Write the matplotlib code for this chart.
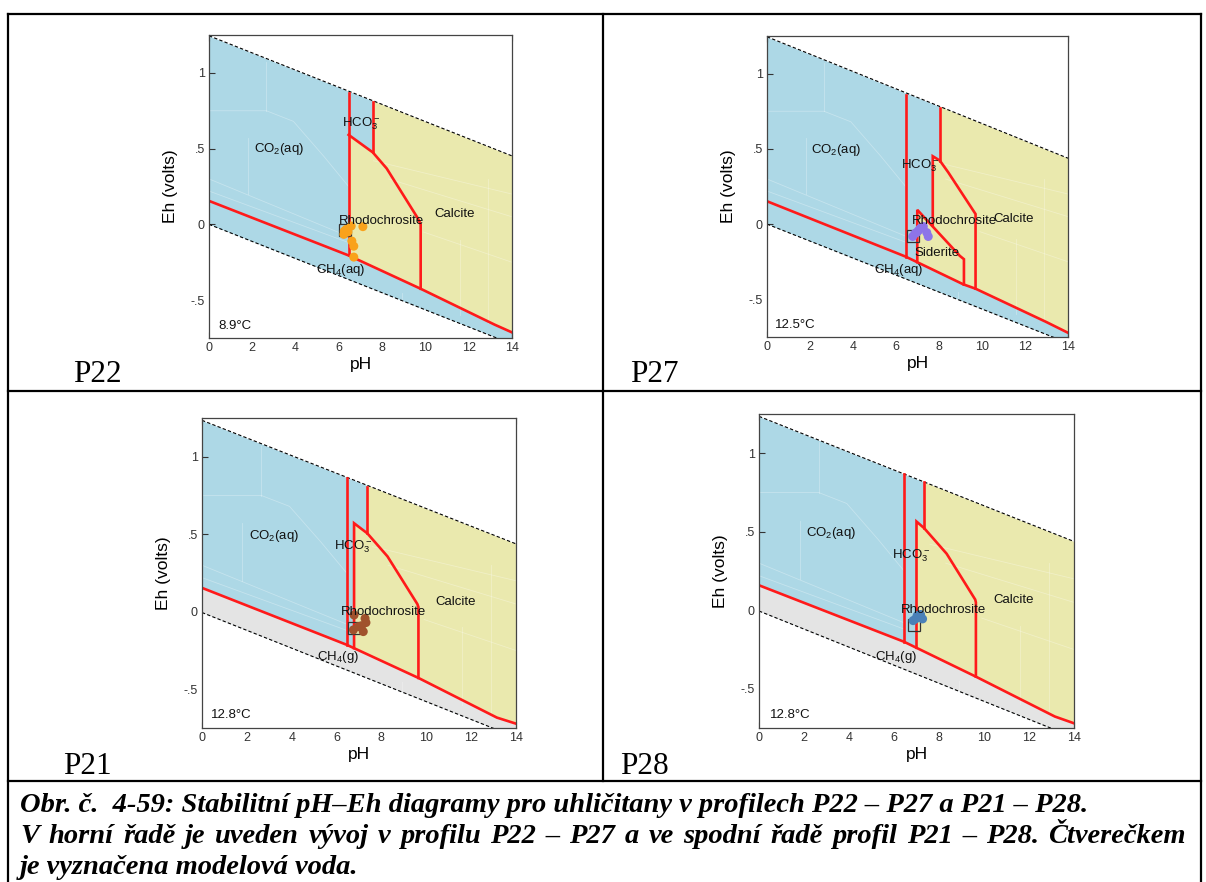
import matplotlib
matplotlib.use('Agg')
import matplotlib.pyplot as plt
from matplotlib.lines import Line2D
import numpy as np

plt.rcParams['font.family'] = ['Liberation Sans', 'DejaVu Sans']
plt.rcParams['mathtext.fontset'] = 'custom'
plt.rcParams['mathtext.rm'] = 'Liberation Sans'
plt.rcParams['mathtext.it'] = 'Liberation Sans:italic'

W, H = 1206, 882

# ── shared axis values ────────────────────────────────────────────────────────
PH_TICKS = [0, 2, 4, 6, 8, 10, 12, 14]
EH_TICKS = [-0.5, 0, 0.5, 1]
EH_TICK_LABELS = ['-.5', '0', '.5', '1']

# faint traces of the underlying diagram (white, barely visible)
faint_lines = [
    [(1.8, 0.57), (1.8, 0.2)],
    [(2.65, 1.07), (2.65, 0.75)],
    [(0, 0.75), (2.65, 0.75), (3.9, 0.68), (5.3, 0.45), (6.45, 0.25)],
    [(0, 0.30), (6.45, -0.08)],
    [(0, 0.22), (6.45, -0.12)],
    [(7.6, 0.42), (14, 0.20)],
    [(8.3, 0.30), (14, 0.05)],
    [(9.9, -0.05), (14, -0.25)],
    [(8.9, -0.45), (8.9, -0.75)],
    [(11.6, -0.1), (11.6, -0.6)],
    [(12.9, 0.3), (12.9, -0.65)],
]

# ── P22 (8.9 °C) ──────────────────────────────────────────────────────────────
p22_water_top = [(0, 1.245), (14, 0.452)]
p22_water_bottom = [(0, 0.0), (14, -0.79)]
p22_red_lower = [(0, 0.155), (6.45, -0.205), (9.78, -0.425), (13.2, -0.662), (14, -0.713)]
p22_red_co2 = [(6.45, 0.868), (6.45, -0.205)]
p22_red_hco3 = [(7.57, 0.806), (7.57, 0.475)]
p22_red_calcite = [(6.45, 0.591), (7.57, 0.475), (8.21, 0.369), (9.65, 0.04), (9.78, 0.0), (9.78, -0.425)]
p22_red_siderite = []
p22_yellow_chain = [(6.45, 0.591), (7.57, 0.475)]
p22_ph = [6.23, 6.34, 6.42, 6.30, 6.57, 7.11, 6.60, 6.69, 6.69, 6.25]
p22_eh = [-0.066, -0.033, -0.050, -0.040, -0.011, -0.015, -0.110, -0.144, -0.216, -0.045]
p22_model = (6.28, -0.04)
p22_labels = [('CO$_2$(aq)', 3.26, 0.497), ('HCO$_3^-$', 7.03, 0.665), ('Calcite', 11.34, 0.07),
              ('Rhodochrosite', 7.96, 0.022), ('CH$_4$(aq)', 6.11, -0.298), ('8.9°C', 1.19, -0.67)]

# ── P27 (12.5 °C) ─────────────────────────────────────────────────────────────
p27_water_top = [(0, 1.245), (14, 0.438)]
p27_water_bottom = [(0, 0.0), (14, -0.79)]
p27_red_lower = [(0, 0.152), (6.45, -0.216), (9.13, -0.40), (9.70, -0.429), (13.0, -0.651), (14, -0.722)]
p27_red_co2 = [(6.45, 0.86), (6.45, -0.216)]
p27_red_hco3 = [(8.04, 0.771), (8.04, 0.422)]
p27_red_calcite = [(7.71, -0.01), (7.71, 0.451), (8.04, 0.422), (8.43, 0.344), (9.70, 0.067), (9.70, -0.429)]
p27_red_siderite = [(6.99, -0.253), (6.99, 0.095), (8.97, -0.211), (9.16, -0.233), (9.16, -0.402)]
p27_yellow_chain = [(6.99, 0.095), (7.71, -0.01), (7.71, 0.451), (8.04, 0.422)]
p27_ph = [6.78, 6.88, 6.96, 7.04, 7.12, 7.20, 7.27, 7.43, 7.50]
p27_eh = [-0.082, -0.063, -0.056, -0.044, -0.029, -0.022, -0.016, -0.056, -0.082]
p27_model = (6.78, -0.08)
p27_labels = [('CO$_2$(aq)', 3.22, 0.493), ('HCO$_3^-$', 7.12, 0.385), ('Rhodochrosite', 8.74, 0.018),
              ('Calcite', 11.48, 0.033), ('Siderite', 7.92, -0.193), ('CH$_4$(aq)', 6.14, -0.305),
              ('12.5°C', 1.31, -0.673)]

# ── P21 (12.8 °C) ─────────────────────────────────────────────────────────────
p21_water_top = [(0, 1.235), (14, 0.438)]
p21_water_bottom = [(0, -0.005), (14, -0.81)]
p21_red_lower = [(0, 0.154), (6.45, -0.213), (9.65, -0.427), (13.15, -0.683), (14, -0.722)]
p21_red_co2 = [(6.45, 0.861), (6.45, -0.213)]
p21_red_hco3 = [(7.37, 0.806), (7.37, 0.506)]
p21_red_calcite = [(6.78, -0.235), (6.78, 0.571), (7.37, 0.506), (8.27, 0.357), (9.60, 0.05), (9.65, 0.03), (9.65, -0.427)]
p21_red_siderite = []
p21_yellow_chain = [(6.78, 0.571), (7.37, 0.506)]
p21_ph = [6.78, 7.27, 7.31, 7.12, 6.97, 6.75, 7.19]
p21_eh = [-0.021, -0.043, -0.070, -0.090, -0.096, -0.117, -0.128]
p21_model = (6.76, -0.105)
p21_labels = [('CO$_2$(aq)', 3.2, 0.49), ('HCO$_3^-$', 6.75, 0.417), ('Rhodochrosite', 8.09, 0.0),
              ('Calcite', 11.29, 0.06), ('CH$_4$(g)', 6.08, -0.292), ('12.8°C', 1.31, -0.668)]

# ── P28 (12.8 °C) ─────────────────────────────────────────────────────────────
p28_water_top = [(0, 1.235), (14, 0.438)]
p28_water_bottom = [(0, -0.005), (14, -0.81)]
p28_red_lower = [(0, 0.159), (6.45, -0.201), (9.64, -0.423), (13.15, -0.677), (14, -0.72)]
p28_red_co2 = [(6.45, 0.868), (6.45, -0.201)]
p28_red_hco3 = [(7.34, 0.819), (7.34, 0.523)]
p28_red_calcite = [(7.0, -0.239), (7.0, 0.565), (7.34, 0.523), (8.34, 0.36), (9.61, 0.068), (9.64, 0.05), (9.64, -0.423)]
p28_red_siderite = []
p28_yellow_chain = [(7.0, 0.565), (7.34, 0.523)]
p28_ph = [6.85, 6.96, 7.03, 7.18, 7.27]
p28_eh = [-0.066, -0.055, -0.034, -0.027, -0.055]
p28_model = (6.87, -0.096)
p28_labels = [('CO$_2$(aq)', 3.22, 0.495), ('HCO$_3^-$', 6.78, 0.35), ('Rhodochrosite', 8.22, 0.0),
              ('Calcite', 11.3, 0.068), ('CH$_4$(g)', 6.08, -0.296), ('12.8°C', 1.37, -0.668)]

# caption (line 2 is justified to the right margin in the source)
caption = [
    'Obr. č.  4-59: Stabilitní pH–Eh diagramy pro uhličitany v profilech P22 – P27 a P21 – P28.',
    'V horní řadě je uveden vývoj v profilu P22 – P27 a ve spodní řadě profil P21 – P28. Čtverečkem',
    'je vyznačena modelová voda.',
]
caption_justified = [False, True, False]

# panel table: name, axes box in pixels (left, top, right, bottom), dot colour, gas field
panels = [
    dict(name='P22', box=(209, 35, 512, 338), color='#f9a21b', gas=False, label_xy=(73, 382),
         top=p22_water_top, bottom=p22_water_bottom, lower=p22_red_lower,
         reds=[p22_red_co2, p22_red_hco3, p22_red_calcite, p22_red_siderite],
         chain=p22_yellow_chain, ph=p22_ph, eh=p22_eh, model=p22_model, labels=p22_labels),
    dict(name='P27', box=(767, 36, 1068, 337), color='#8d74e8', gas=False, label_xy=(630, 382),
         top=p27_water_top, bottom=p27_water_bottom, lower=p27_red_lower,
         reds=[p27_red_co2, p27_red_hco3, p27_red_calcite, p27_red_siderite],
         chain=p27_yellow_chain, ph=p27_ph, eh=p27_eh, model=p27_model, labels=p27_labels),
    dict(name='P21', box=(202, 418, 516, 728), color='#a0522d', gas=True, label_xy=(63, 774),
         top=p21_water_top, bottom=p21_water_bottom, lower=p21_red_lower,
         reds=[p21_red_co2, p21_red_hco3, p21_red_calcite, p21_red_siderite],
         chain=p21_yellow_chain, ph=p21_ph, eh=p21_eh, model=p21_model, labels=p21_labels),
    dict(name='P28', box=(759, 414, 1074, 728), color='#4a80b8', gas=True, label_xy=(620, 774),
         top=p28_water_top, bottom=p28_water_bottom, lower=p28_red_lower,
         reds=[p28_red_co2, p28_red_hco3, p28_red_calcite, p28_red_siderite],
         chain=p28_yellow_chain, ph=p28_ph, eh=p28_eh, model=p28_model, labels=p28_labels),
]

BLUE = '#add8e6'
YELLOW = '#eae9ae'
GRAY = '#e4e4e4'
RED = '#ff1a1a'


def line_fn(pts):
    xs, ys = zip(*pts)
    return lambda x: np.interp(x, xs, ys)


fig = plt.figure(figsize=(W / 100, H / 100), dpi=100)

for p in panels:
    l, t, r, b = p['box']
    ax = fig.add_axes([l / W, 1 - b / H, (r - l) / W, (b - t) / H])
    top = line_fn(p['top'])
    bot = line_fn(p['bottom'])
    low = line_fn(p['lower'])

    # aqueous field between the water limits
    xs = np.array([0, 14])
    ax.fill_between(xs, bot(xs), top(xs), color=BLUE, lw=0, zorder=1)

    # CH4(g) field below the red line
    if p['gas']:
        xg = np.array(sorted(set([q[0] for q in p['lower']] + [0, 14])))
        ax.fill_between(xg, bot(xg), low(xg), color=GRAY, lw=0, zorder=2)

    # mineral fields (yellow)
    chain = p['chain']
    x0, xh = chain[0][0], chain[-1][0]
    verts = [(x0, float(low(x0)))] + chain + [(xh, float(top(xh))), (14, float(top(14))), (14, float(low(14)))]
    verts += [q for q in reversed(p['lower']) if x0 < q[0] < 14]
    ax.add_patch(plt.Polygon(verts, closed=True, facecolor=YELLOW, edgecolor='none', zorder=3))

    for fl in faint_lines:
        fx, fy = zip(*fl)
        ax.plot(fx, fy, color='white', lw=0.6, alpha=0.3, zorder=4)

    # red field boundaries
    lx, ly = zip(*p['lower'])
    ax.plot(lx, ly, color=RED, lw=1.9, zorder=6, solid_joinstyle='round')
    for seg in p['reds']:
        if seg:
            sx, sy = zip(*seg)
            ax.plot(sx, sy, color=RED, lw=1.9, zorder=6, solid_joinstyle='miter')

    # water stability limits
    for wl in (p['top'], p['bottom']):
        wx, wy = zip(*wl)
        ax.plot(wx, wy, color='black', lw=0.8, ls=(0, (3, 2)), zorder=5)

    # white outside the water limits
    ax.fill_between(xs, top(xs), 2, color='white', lw=0, zorder=4.5)
    ax.fill_between(xs, -2, bot(xs), color='white', lw=0, zorder=4.5)

    ax.scatter(p['ph'], p['eh'], s=42, color=p['color'], edgecolors='none', zorder=8)
    ax.plot(*p['model'], marker='s', ms=8, mfc='none', mec='#333333', mew=0.9, zorder=7)

    for txt, x, y in p['labels']:
        ax.text(x, y, txt, ha='center', va='center', fontsize=9.5, color='#111111', zorder=9)

    ax.set_xlim(0, 14)
    ax.set_ylim(-0.75, 1.25)
    ax.set_xticks(PH_TICKS)
    ax.set_yticks(EH_TICKS)
    ax.set_yticklabels(EH_TICK_LABELS)
    ax.tick_params(direction='in', length=4, width=0.8, top=True, right=True,
                   labelsize=9, colors='#333333', pad=3)
    for s in ax.spines.values():
        s.set_color('#444444')
        s.set_linewidth(0.9)
        s.set_zorder(10)
    ax.set_xlabel('pH', fontsize=12.5, labelpad=2)
    ax.set_ylabel('Eh (volts)', fontsize=12.5, labelpad=9)

    lxp, lyp = p['label_xy']
    fig.text(lxp / W, 1 - lyp / H, p['name'], family='Liberation Serif', fontsize=22.5,
             ha='left', va='baseline')

# ── table frame ──────────────────────────────────────────────────────────────
def hline(y, x0, x1):
    fig.add_artist(Line2D([x0 / W, x1 / W], [1 - y / H, 1 - y / H], color='black', lw=1.6))


def vline(x, y0, y1):
    fig.add_artist(Line2D([x / W, x / W], [1 - y0 / H, 1 - y1 / H], color='black', lw=1.6))


hline(14, 8, 1201)
hline(391, 8, 1201)
hline(781, 8, 1201)
vline(8, 14, 882)
vline(1201, 14, 882)
vline(603, 14, 781)

# ── caption ──────────────────────────────────────────────────────────────────
renderer = fig.canvas.get_renderer()
cap_style = dict(family='Liberation Serif', fontsize=20.5, weight='bold', style='italic',
                 ha='left', va='baseline')
CAP_LEFT, CAP_RIGHT = 20, 1186
for i, (line, just) in enumerate(zip(caption, caption_justified)):
    y = 1 - (812 + 31 * i) / H
    if not just:
        fig.text(CAP_LEFT / W, y, line, **cap_style)
        continue
    words = line.split(' ')
    texts = [fig.text(0, y, w, **cap_style) for w in words]
    widths = [t.get_window_extent(renderer).width for t in texts]
    gap = (CAP_RIGHT - CAP_LEFT - sum(widths)) / (len(words) - 1)
    x = CAP_LEFT
    for t, w in zip(texts, widths):
        t.set_x(x / W)
        x += w + gap

fig.savefig('out.png', dpi=100)
